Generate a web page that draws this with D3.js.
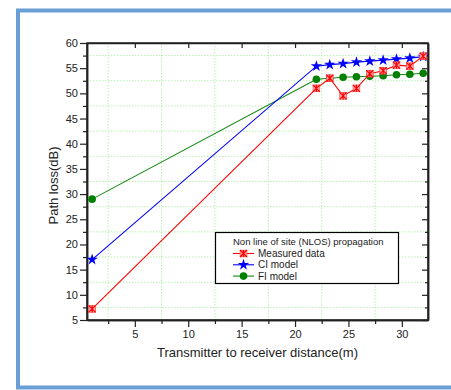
<!DOCTYPE html>
<html>
<head>
<meta charset="utf-8">
<script src="https://cdn.jsdelivr.net/npm/d3@7"></script>
<style>
  html, body { margin: 0; padding: 0; background: #fff; }
  svg { display: block; font-family: "Liberation Sans", Arial, sans-serif; }
</style>
</head>
<body>
<svg id="chart" width="451" height="390"></svg>
<script>
// Distances (m) at which path loss was measured / predicted
const distances = [1, 22, 23.25, 24.5, 25.75, 27, 28.25, 29.5, 30.75, 32];
const measured  = [7.2, 51.0, 53.0, 49.5, 51.0, 53.9, 54.5, 55.6, 55.4, 57.4];
const ciModel   = [17.0, 55.4, 55.7, 55.9, 56.2, 56.4, 56.6, 56.8, 57.0, 57.3];
const fiModel   = [29.0, 52.8, 53.0, 53.2, 53.3, 53.4, 53.5, 53.7, 53.8, 54.0];

const xTicks = [5, 10, 15, 20, 25, 30];
const yTicks = [5, 10, 15, 20, 25, 30, 35, 40, 45, 50, 55, 60];
const xMinor = [2.5, 7.5, 12.5, 17.5, 22.5, 27.5, 32.5];
const yMinor = [7.5, 12.5, 17.5, 22.5, 27.5, 32.5, 37.5, 42.5, 47.5, 52.5, 57.5];

const legendTitle = "Non line of site (NLOS) propagation";
const seriesNames = ["Measured data", "CI model", "FI model"];

const svg = d3.select("#chart");

// Outer blue frame
svg.append("rect")
  .attr("x", 18).attr("y", 10.5)
  .attr("width", 450).attr("height", 377)
  .attr("fill", "none").attr("stroke", "#6a9fd6").attr("stroke-width", 4);

const plot = { left: 87, right: 428, top: 43, bottom: 320 };

const x = d3.scaleLinear().domain([0.52, 32.45]).range([plot.left, plot.right]);
const y = d3.scaleLinear().domain([5, 60]).range([plot.bottom, plot.top]);

// Dotted grid at the half-step positions
const grid = svg.append("g").attr("stroke", "#b8f0b0").attr("stroke-width", 1)
  .attr("stroke-dasharray", "1.5,1.5");
xMinor.filter(v => x(v) < plot.right - 1).forEach(v => {
  grid.append("line").attr("x1", x(v)).attr("x2", x(v))
    .attr("y1", plot.top).attr("y2", plot.bottom);
});
yMinor.forEach(v => {
  grid.append("line").attr("x1", plot.left).attr("x2", plot.right)
    .attr("y1", y(v)).attr("y2", y(v));
});

// Axes: bottom & left ticks outward, top & right ticks inward
const axisStyle = g => {
  g.selectAll("path").attr("stroke", "#222").attr("stroke-width", 1.5);
  g.selectAll("line").attr("stroke", "#222").attr("stroke-width", 1.2);
  g.selectAll("text").attr("fill", "#222").attr("font-size", 11);
};

const xMinorTicks = xMinor.filter(v => v < 32.45);

svg.append("g").attr("transform", `translate(0,${plot.bottom})`)
  .call(d3.axisBottom(x).tickValues(xMinorTicks).tickSize(4).tickFormat("").tickSizeOuter(0))
  .call(axisStyle);
svg.append("g").attr("transform", `translate(0,${plot.bottom})`)
  .call(d3.axisBottom(x).tickValues(xTicks).tickSize(7).tickPadding(3).tickSizeOuter(0))
  .call(axisStyle);

svg.append("g").attr("transform", `translate(${plot.left},0)`)
  .call(d3.axisLeft(y).tickValues(yMinor).tickSize(4).tickFormat("").tickSizeOuter(0))
  .call(axisStyle);
svg.append("g").attr("transform", `translate(${plot.left},0)`)
  .call(d3.axisLeft(y).tickValues(yTicks).tickSize(7).tickPadding(2).tickSizeOuter(0))
  .call(axisStyle);

svg.append("g").attr("transform", `translate(0,${plot.top})`)
  .call(d3.axisBottom(x).tickValues(xTicks).tickSize(5).tickFormat("").tickSizeOuter(0))
  .call(axisStyle);
svg.append("g").attr("transform", `translate(${plot.right},0)`)
  .call(d3.axisLeft(y).tickValues(yTicks).tickSize(6).tickFormat("").tickSizeOuter(0))
  .call(axisStyle);
svg.append("g").attr("transform", `translate(${plot.right},0)`)
  .call(d3.axisLeft(y).tickValues(yMinor).tickSize(3).tickFormat("").tickSizeOuter(0))
  .call(axisStyle);

// Plot frame
svg.append("rect")
  .attr("x", plot.left).attr("y", plot.top)
  .attr("width", plot.right - plot.left).attr("height", plot.bottom - plot.top)
  .attr("fill", "none").attr("stroke", "#222").attr("stroke-width", 1.5);

// Axis titles
svg.append("text")
  .attr("x", (plot.left + plot.right) / 2).attr("y", 357)
  .attr("text-anchor", "middle").attr("font-size", 13).attr("fill", "#222")
  .text("Transmitter to receiver distance(m)");
svg.append("text")
  .attr("transform", `translate(58,${(plot.top + plot.bottom) / 2 + 4}) rotate(-90)`)
  .attr("text-anchor", "middle").attr("font-size", 13).attr("fill", "#222")
  .text("Path loss(dB)");

// Marker drawing
const star = d3.symbol().type(d3.symbolStar).size(40);
function drawMarker(g, kind, cx, cy) {
  if (kind === "cross") {
    g.append("rect").attr("x", cx - 3.3).attr("y", cy - 3.3).attr("width", 6.6).attr("height", 6.6)
      .attr("fill", "#ffb0b0").attr("stroke", "#ff5050").attr("stroke-width", 0.8);
    const s = 3.5;
    g.append("path")
      .attr("d", `M${cx - s},${cy - s}L${cx + s},${cy + s}M${cx - s},${cy + s}L${cx + s},${cy - s}M${cx},${cy - s}L${cx},${cy + s}`)
      .attr("stroke", "#ff0000").attr("stroke-width", 1.2);
  } else if (kind === "star") {
    g.append("path").attr("d", star).attr("transform", `translate(${cx},${cy})`)
      .attr("fill", "#0000ff");
  } else {
    g.append("circle").attr("cx", cx).attr("cy", cy).attr("r", 3.8).attr("fill", "#008000");
  }
}

const series = [
  { name: seriesNames[0], values: measured, color: "#ff0000", marker: "cross" },
  { name: seriesNames[1], values: ciModel,  color: "#0000ff", marker: "star" },
  { name: seriesNames[2], values: fiModel,  color: "#118811", marker: "circle" }
];

const line = d3.line().x(d => x(d[0])).y(d => y(d[1]));

// Draw in reverse so measured data stays on top
series.slice().reverse().forEach(s => {
  const pts = distances.map((d, i) => [d, s.values[i]]);
  const g = svg.append("g");
  g.append("path").attr("d", line(pts)).attr("fill", "none")
    .attr("stroke", s.color).attr("stroke-width", 1.1);
  pts.forEach(p => drawMarker(g, s.marker, x(p[0]), y(p[1])));
});

// Legend
const lg = svg.append("g");
lg.append("rect").attr("x", 215.5).attr("y", 232.5).attr("width", 183).attr("height", 51)
  .attr("fill", "#fff").attr("stroke", "#000").attr("stroke-width", 1.2);
lg.append("text").attr("x", 233).attr("y", 245).attr("font-size", 9.5).attr("fill", "#222")
  .text(legendTitle);
series.forEach((s, i) => {
  const cy = 253.5 + i * 11.3;
  lg.append("line").attr("x1", 233).attr("x2", 254).attr("y1", cy).attr("y2", cy)
    .attr("stroke", s.color).attr("stroke-width", 1.1);
  drawMarker(lg, s.marker, 243.5, cy);
  lg.append("text").attr("x", 258).attr("y", cy + 3.5).attr("font-size", 10).attr("fill", "#222")
    .text(s.name);
});
</script>
</body>
</html>
